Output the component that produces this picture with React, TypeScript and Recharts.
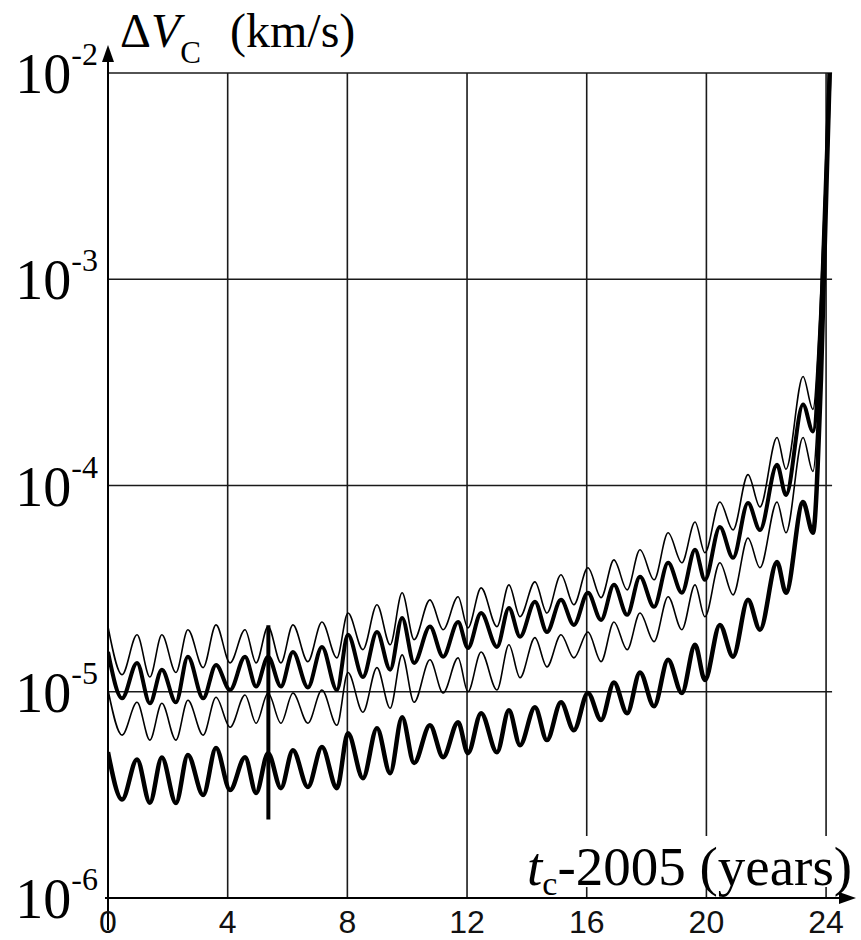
import React from "react";
import { LineChart, Line, XAxis, YAxis, ReferenceLine } from "recharts";

// time since 2005 (years), read at the peaks and troughs of the wiggles
const years = [
  0, 0.47, 0.97, 1.4, 1.8, 2.27, 2.67, 3.18, 3.61, 4.08, 4.58, 4.95, 5.35, 5.78,
  6.18, 6.68, 7.15, 7.65, 8.02, 8.52, 8.99, 9.43, 9.83, 10.23, 10.76, 11.2, 11.7,
  12.03, 12.47, 13.0, 13.4, 13.77, 14.27, 14.67, 15.14, 15.57, 16.04, 16.48, 16.91,
  17.35, 17.78, 18.25, 18.72, 19.18, 19.62, 19.95, 20.45, 20.89, 21.39, 21.79,
  22.36, 22.66, 23.23, 23.56, 23.83, 24.12,
];

// thin, upper curve
const seriesA = [
  2.07e-5, 1.21e-5, 1.89e-5, 1.18e-5, 1.89e-5, 1.24e-5, 2.0e-5, 1.31e-5, 2.11e-5, 1.38e-5,
  2.0e-5, 1.38e-5, 2.07e-5, 1.38e-5, 2.11e-5, 1.4e-5, 2.18e-5, 1.46e-5, 2.41e-5, 1.6e-5,
  2.64e-5, 1.69e-5, 3.02e-5, 1.79e-5, 2.79e-5, 2.0e-5, 2.89e-5, 2.04e-5, 3.19e-5, 2.07e-5,
  3.3e-5, 2.31e-5, 3.41e-5, 2.41e-5, 3.69e-5, 2.64e-5, 3.99e-5, 2.86e-5, 4.36e-5, 3.12e-5,
  4.88e-5, 3.49e-5, 5.9e-5, 4.22e-5, 6.65e-5, 4.72e-5, 8.32e-5, 6.09e-5, 1.13e-4, 7.87e-5,
  1.71e-4, 1.2e-4, 3.38e-4, 2.34e-4, 8.9e-4, 1.0e-2,
];

// thick, second curve
const seriesB = [
  1.56e-5, 9.3e-6, 1.38e-5, 8.79e-6, 1.28e-5, 8.89e-6, 1.48e-5, 9.3e-6, 1.35e-5, 1.02e-5,
  1.48e-5, 1.06e-5, 1.48e-5, 1.06e-5, 1.56e-5, 1.05e-5, 1.65e-5, 1.02e-5, 1.89e-5, 1.18e-5,
  1.95e-5, 1.28e-5, 2.28e-5, 1.38e-5, 2.07e-5, 1.48e-5, 2.18e-5, 1.63e-5, 2.41e-5, 1.65e-5,
  2.55e-5, 1.85e-5, 2.73e-5, 1.95e-5, 2.79e-5, 2.11e-5, 3.02e-5, 2.23e-5, 3.3e-5, 2.36e-5,
  3.61e-5, 2.58e-5, 4.22e-5, 3.02e-5, 4.88e-5, 3.49e-5, 6.29e-5, 4.46e-5, 8.23e-5, 6.09e-5,
  1.26e-4, 9.0e-5, 2.47e-4, 1.83e-4, 6.4e-4, 1.0e-2,
];

// thin, third curve
const seriesC = [
  1.02e-5, 6.16e-6, 8.89e-6, 5.83e-6, 8.79e-6, 5.83e-6, 9.1e-6, 6.16e-6, 9.41e-6, 6.73e-6,
  9.64e-6, 7.04e-6, 9.86e-6, 7.04e-6, 9.86e-6, 7.04e-6, 1.02e-5, 6.88e-6, 1.24e-5, 7.96e-6,
  1.31e-5, 8.32e-6, 1.51e-5, 8.89e-6, 1.43e-5, 9.86e-6, 1.46e-5, 1.0e-5, 1.56e-5, 1.02e-5,
  1.69e-5, 1.17e-5, 1.83e-5, 1.32e-5, 1.89e-5, 1.46e-5, 1.95e-5, 1.4e-5, 2.18e-5, 1.6e-5,
  2.41e-5, 1.75e-5, 2.89e-5, 2.0e-5, 3.3e-5, 2.31e-5, 4.22e-5, 2.95e-5, 5.57e-5, 3.99e-5,
  8.32e-5, 5.9e-5, 1.71e-4, 1.17e-4, 5.1e-4, 1.0e-2,
];

// thick, lowest curve
const seriesD = [
  5.1e-6, 3.0e-6, 4.7e-6, 2.9e-6, 4.8e-6, 2.89e-6, 4.93e-6, 3.16e-6, 5.33e-6, 3.34e-6,
  4.82e-6, 3.23e-6, 5.04e-6, 3.41e-6, 5.21e-6, 3.45e-6, 5.39e-6, 3.41e-6, 6.29e-6, 3.81e-6,
  6.65e-6, 4.03e-6, 7.52e-6, 4.51e-6, 6.88e-6, 4.82e-6, 7.12e-6, 5.04e-6, 7.87e-6, 5.09e-6,
  8.13e-6, 5.51e-6, 8.41e-6, 5.83e-6, 8.89e-6, 6.51e-6, 9.86e-6, 7.29e-6, 1.11e-5, 7.87e-6,
  1.24e-5, 8.5e-6, 1.43e-5, 9.86e-6, 1.69e-5, 1.14e-5, 2.11e-5, 1.48e-5, 2.79e-5, 2.0e-5,
  4.26e-5, 3.02e-5, 8.32e-5, 5.9e-5, 3.3e-4, 1.0e-2,
];

// the glitch near t = 5.4
const spikeYears = [5.36, 5.36];
const spikeValues = [2.1e-5, 2.4e-6];

const xTicks = [0, 4, 8, 12, 16, 20, 24];
const yTicks = [1e-6, 1e-5, 1e-4, 1e-3, 1e-2];
const yExponents = ["-6", "-5", "-4", "-3", "-2"];

const Y_MIN = 1e-6;
const Y_TOP = Math.pow(10, -1.864); // room for the arrow above 10^-2
const GRID_RIGHT = 24.2;

const data = years.map((t, i) => ({
  t,
  a: seriesA[i],
  b: seriesB[i],
  c: seriesC[i],
  d: seriesD[i],
}));
const spikeData = spikeYears.map((t, i) => ({ t, s: spikeValues[i] }));

const serif = '"Liberation Serif", "Times New Roman", "DejaVu Serif", serif';
const sans = '"Liberation Sans", Arial, sans-serif';
const gridColor = "#1a1a1a";

function ArrowLine(props: any) {
  const { x1, y1, x2, y2 } = props;
  const dx = x2 - x1;
  const dy = y2 - y1;
  const len = Math.hypot(dx, dy) || 1;
  const ux = dx / len;
  const uy = dy / len;
  const head = 17;
  const half = 6;
  const bx = x2 - ux * head;
  const by = y2 - uy * head;
  return (
    <g>
      <line x1={x1} y1={y1} x2={bx} y2={by} stroke="#000" strokeWidth={2} />
      <polygon
        points={`${x2},${y2} ${bx - uy * half},${by + ux * half} ${bx + uy * half},${by - ux * half}`}
        fill="#000"
      />
    </g>
  );
}

function XTick({ x, y, payload }: any) {
  return (
    <text x={x} y={y + 27} textAnchor="middle" style={{ fontFamily: sans, fontSize: 32 }} fill="#111">
      {payload.value}
    </text>
  );
}

function YTick({ x, y, payload }: any) {
  const i = yTicks.indexOf(payload.value);
  return (
    <text x={x - 2} y={y + 20} textAnchor="end" style={{ fontFamily: serif }} fill="#000">
      <tspan style={{ fontSize: 56 }}>10</tspan>
      <tspan style={{ fontSize: 32 }} dy={-28}>
        {yExponents[i]}
      </tspan>
    </text>
  );
}

export default function App() {
  const splitVerticals = [16, 20, 24];
  const fullVerticals = [4, 8, 12];
  const horizontals = [1e-5, 1e-4, 1e-3, 1e-2];

  return (
    <div style={{ position: "absolute", left: 0, top: 0, width: 861, height: 940, background: "#fff" }}>
      <LineChart width={861} height={940} margin={{ top: 45, right: 5, bottom: 0, left: 0 }}>
        <XAxis
          type="number"
          dataKey="t"
          domain={[0, 25]}
          ticks={xTicks}
          height={42}
          axisLine={false}
          tickLine={false}
          tick={<XTick />}
          allowDataOverflow
        />
        <YAxis
          type="number"
          scale="log"
          domain={[Y_MIN, Y_TOP]}
          ticks={yTicks}
          width={108}
          axisLine={false}
          tickLine={false}
          tick={<YTick />}
          allowDataOverflow
        />

        {horizontals.map((v) => (
          <ReferenceLine
            key={`h${v}`}
            segment={[{ x: 0, y: v }, { x: GRID_RIGHT, y: v }]}
            stroke={gridColor}
            strokeWidth={1.6}
          />
        ))}
        {fullVerticals.map((t) => (
          <ReferenceLine
            key={`v${t}`}
            segment={[{ x: t, y: Y_MIN }, { x: t, y: 1e-2 }]}
            stroke={gridColor}
            strokeWidth={1.6}
          />
        ))}
        {splitVerticals.map((t) => (
          <ReferenceLine
            key={`vu${t}`}
            segment={[{ x: t, y: 2.0e-6 }, { x: t, y: 1e-2 }]}
            stroke={gridColor}
            strokeWidth={1.6}
          />
        ))}
        {splitVerticals.map((t) => (
          <ReferenceLine
            key={`vl${t}`}
            segment={[{ x: t, y: Y_MIN }, { x: t, y: 1.13e-6 }]}
            stroke={gridColor}
            strokeWidth={1.6}
          />
        ))}

        {/* axes with arrow heads */}
        <ReferenceLine
          segment={[{ x: -0.1, y: Y_MIN }, { x: 25, y: Y_MIN }]}
          ifOverflow="visible"
          shape={ArrowLine}
        />
        <ReferenceLine
          segment={[{ x: 0, y: 7.0e-7 }, { x: 0, y: Y_TOP }]}
          ifOverflow="visible"
          shape={ArrowLine}
        />

        <Line data={data} dataKey="a" type="monotone" stroke="#000" strokeWidth={1.6} dot={false} isAnimationActive={false} />
        <Line data={data} dataKey="c" type="monotone" stroke="#000" strokeWidth={1.6} dot={false} isAnimationActive={false} />
        <Line data={data} dataKey="b" type="monotone" stroke="#000" strokeWidth={4} dot={false} isAnimationActive={false} />
        <Line data={data} dataKey="d" type="monotone" stroke="#000" strokeWidth={4.5} dot={false} isAnimationActive={false} />
        <Line data={spikeData} dataKey="s" type="linear" stroke="#000" strokeWidth={4} dot={false} isAnimationActive={false} />
      </LineChart>

      <svg width={861} height={940} style={{ position: "absolute", left: 0, top: 0, pointerEvents: "none" }}>
        <text x={120} y={47} style={{ fontFamily: serif, fontSize: 48 }} fill="#000">
          Δ<tspan style={{ fontStyle: "italic" }}>V</tspan>
          <tspan style={{ fontSize: 31 }} dy={16}>C</tspan>
          <tspan x={230} dy={-16}>(km/s)</tspan>
        </text>
        <text x={527} y={885} style={{ fontFamily: serif, fontSize: 55 }} fill="#000">
          <tspan style={{ fontStyle: "italic" }}>t</tspan>
          <tspan style={{ fontSize: 34 }} dy={10}>c</tspan>
          <tspan dy={-10}>-2005 (years)</tspan>
        </text>
      </svg>
    </div>
  );
}
